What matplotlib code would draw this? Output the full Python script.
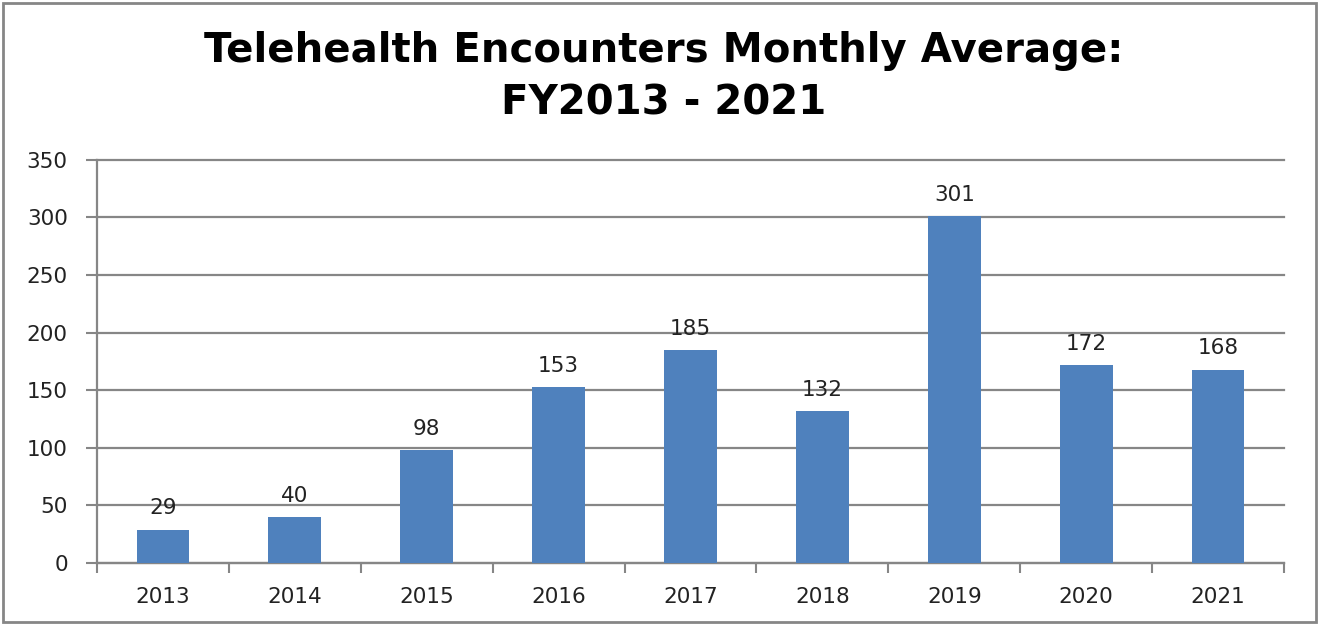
import matplotlib.pyplot as plt
import numpy as np
from matplotlib.patches import Rectangle

years = ["2013", "2014", "2015", "2016", "2017", "2018", "2019", "2020", "2021"]
encounters = [29, 40, 98, 153, 185, 132, 301, 172, 168]
y_ticks = [0, 50, 100, 150, 200, 250, 300, 350]

BAR_COLOR = "#4F81BD"
GRID_COLOR = "#868686"
TEXT_COLOR = "#222222"

plt.rcParams["font.family"] = ["DejaVu Sans"]

fig = plt.figure(figsize=(13.19, 6.25), dpi=100)
ax = fig.add_axes([0.0735, 0.0992, 0.9, 0.645])

x = np.arange(len(years))
ax.bar(x, encounters, 0.4, color=BAR_COLOR, zorder=3)
for xi, v in zip(x, encounters):
    ax.annotate(f"{v}", (xi, v), xytext=(0, 8), textcoords="offset points",
                ha="center", va="bottom", fontsize=15.5, color=TEXT_COLOR)

ax.set_xlim(-0.5, len(years) - 0.5)
ax.set_ylim(0, 350)
ax.set_yticks(y_ticks)
ax.set_yticklabels([str(t) for t in y_ticks], fontsize=15.5, color=TEXT_COLOR)
ax.set_xticks(x)
ax.set_xticklabels(years, fontsize=15.5, color=TEXT_COLOR)
ax.tick_params(axis="x", which="major", length=0, pad=17)
ax.set_xticks(np.arange(-0.5, len(years)), minor=True)
ax.tick_params(axis="x", which="minor", length=7, width=1.5, color=GRID_COLOR)
ax.tick_params(axis="y", length=8, width=1.5, color=GRID_COLOR, pad=13)

ax.grid(axis="y", color=GRID_COLOR, linewidth=1.6, zorder=0)
for gl in ax.get_ygridlines():
    gl.set_clip_on(False)
ax.set_axisbelow(True)
for s in ["top", "right"]:
    ax.spines[s].set_visible(False)
for s in ["left", "bottom"]:
    ax.spines[s].set_color(GRID_COLOR)
    ax.spines[s].set_linewidth(1.6)

fig.text(0.503, 0.918, "Telehealth Encounters Monthly Average:", ha="center", va="center",
         fontsize=29, fontweight="bold")
fig.text(0.503, 0.835, "FY2013 - 2021", ha="center", va="center",
         fontsize=29, fontweight="bold")

fig.patches.append(Rectangle((0.002, 0.005), 0.996, 0.99, transform=fig.transFigure,
                             fill=False, edgecolor=GRID_COLOR, linewidth=2))

fig.savefig("out.png", dpi=100)
